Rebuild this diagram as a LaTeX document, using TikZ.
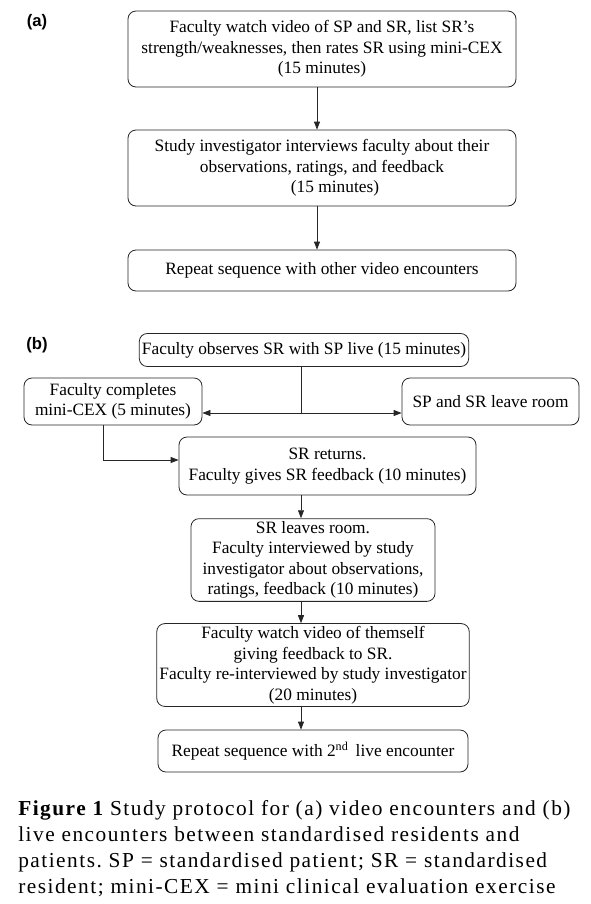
\documentclass[tikz,border=0pt]{standalone}
\usepackage{fontspec}
\setmainfont{Liberation Serif}
\newfontfamily\lblfont{Liberation Sans}
\newfontfamily\capfont[LetterSpace=7]{Liberation Serif}
\usetikzlibrary{arrows.meta}
\frenchspacing
\begin{document}
\begin{tikzpicture}[x=0.75pt,y=-0.75pt,
  box/.style={draw=black!85, line width=0.6pt, rounded corners=6pt, align=center,
    inner sep=2pt, font=\fontsize{13}{15.4}\selectfont},
  arr/.style={draw=black!85, line width=0.6pt, -{Triangle[length=6pt,width=4.5pt]}},
  ln/.style={draw=black!85, line width=0.6pt},
  lbl/.style={font=\lblfont\bfseries\fontsize{12.5}{14}\selectfont}]
\useasboundingbox (0,0) rectangle (591,904);
% (a)
\node[lbl] (la) at (37,22) {(a)};
\node[box, minimum width=291pt, minimum height=57pt] (a1) at (322,49)
  {Faculty watch video of SP and SR, list SR’s\\strength/weaknesses, then rates SR using mini-CEX\\(15 minutes)};
\node[box, minimum width=291pt, minimum height=57pt] (a2) at (322,168)
  {Study investigator interviews faculty about their\\observations, ratings, and feedback\\\hspace*{1.5em}(15 minutes)};
\node[box, minimum width=291pt, minimum height=30.75pt] (a3) at (322,270.5)
  {Repeat sequence with other video encounters};
\coordinate (acol) at (317,0);
\draw[arr] (a1.south -| acol) -- (a2.north -| acol);
\draw[arr] (a2.south -| acol) -- (a3.north -| acol);
% (b)
\node[lbl] (lb) at (37,345) {(b)};
\node[box, minimum width=246pt, minimum height=24.75pt] (b1) at (304,350)
  {Faculty observes SR with SP live (15 minutes)};
\node[box, minimum width=133.5pt, minimum height=35.25pt] (b2) at (113,401.5)
  {Faculty completes\\mini-CEX (5 minutes)};
\node[box, minimum width=132.75pt, minimum height=35.25pt] (b3) at (490.5,401.5)
  {SP and SR leave room};
\node[box, minimum width=222.75pt, minimum height=43.5pt] (b4) at (327.5,466)
  {SR returns.\\Faculty gives SR feedback (10 minutes)};
\node[box, minimum width=183pt, minimum height=61.5pt] (b5) at (313,560)
  {SR leaves room.\\Faculty interviewed by study\\investigator about observations,\\ratings, feedback (10 minutes)};
\node[box, minimum width=232.5pt, minimum height=61.5pt] (b6) at (313,665)
  {Faculty watch video of themself\\giving feedback to SR.\\Faculty re-interviewed by study investigator\\(20 minutes)};
\node[box, minimum width=232.5pt, minimum height=31.5pt] (b7) at (313,751)
  {Repeat sequence with 2\textsuperscript{nd}\, live encounter};
\coordinate (col) at (301,0);
\coordinate (j) at (301,413);
\coordinate (k) at (103,460);
\draw[ln] (b1.south -| j) -- (j);
\draw[arr] (j) -- (j -| b2.east);
\draw[arr] (j) -- (j -| b3.west);
\draw[ln] (b2.south -| k) -- (k);
\draw[arr] (k) -- (k -| b4.west);
\draw[arr] (b4.south -| col) -- (b5.north -| col);
\draw[arr] (b5.south -| col) -- (b6.north -| col);
\draw[arr] (b6.south -| col) -- (b7.north -| col);
% caption
\node[anchor=north west, align=left, inner sep=0pt, font=\capfont\fontsize{16}{19.5}\selectfont] (cap) at (18,800)
  {{\bfseries Figure 1} Study protocol for (a) video encounters and (b)\\
   live encounters between standardised residents and\\
   patients. SP = standardised patient; SR = standardised\\
   resident; mini-CEX = mini clinical evaluation exercise};
\end{tikzpicture}
\end{document}
